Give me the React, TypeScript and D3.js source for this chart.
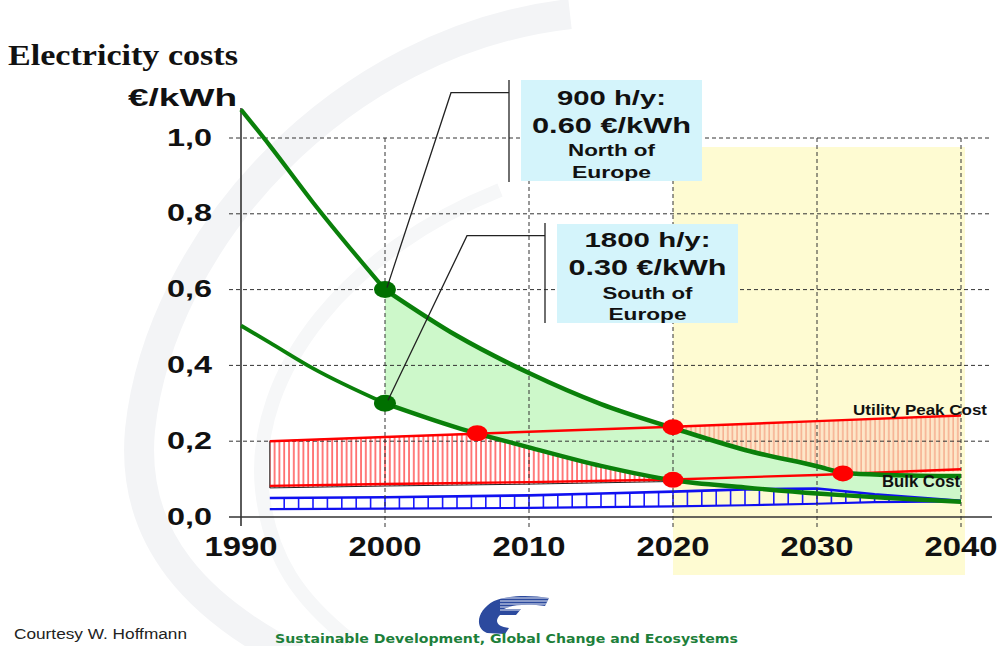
import React from 'react';
import * as d3 from 'd3';

// Cost curves of PV electricity for two irradiation levels (€/kWh)
const curveYears = [1990, 1992, 1995, 2000, 2005, 2010, 2015, 2020, 2025, 2030, 2032, 2035, 2040];
const north900 = [1.075, 0.98, 0.83, 0.6, 0.478, 0.38, 0.298, 0.235, 0.177, 0.134, 0.116, 0.111, 0.108];
const south1800 = [0.505, 0.46, 0.392, 0.3, 0.236, 0.184, 0.135, 0.097, 0.078, 0.062, 0.057, 0.05, 0.04];

// Grid electricity prices
const costYears = [1992, 2000, 2010, 2020, 2030, 2040];
const utilityPeak = [0.2, 0.211, 0.225, 0.238, 0.253, 0.268];
const bulkCost = [0.082, 0.087, 0.092, 0.099, 0.111, 0.126];

// Generation cost band (blue)
const bandYears = [1992, 2000, 2010, 2015, 2020, 2025, 2030, 2034, 2040];
const bandTop = [0.05, 0.052, 0.057, 0.062, 0.067, 0.073, 0.075, 0.06, 0.043];
const bandBottom = [0.021, 0.022, 0.024, 0.026, 0.028, 0.031, 0.035, 0.039, 0.041];

// Break-even points
const crossYears = [2006.4, 2020, 2020, 2031.8];
const crossCosts = [0.221, 0.237, 0.098, 0.115];
const anchorYears = [2000, 2000];
const anchorCosts = [0.6, 0.3];

const xTicks = [1990, 2000, 2010, 2020, 2030, 2040];
const yTicks = [0, 0.2, 0.4, 0.6, 0.8, 1.0];
const yTickLabels = ['0,0', '0,2', '0,4', '0,6', '0,8', '1,0'];

const northBox = ['900 h/y:', '0.60 €/kWh', 'North of', 'Europe'];
const southBox = ['1800 h/y:', '0.30 €/kWh', 'South of', 'Europe'];

const SANS = "'Liberation Sans', Arial, sans-serif";

export default function App() {
  const x = d3.scaleLinear().domain([1990, 2040]).range([241, 961]);
  const y = d3.scaleLinear().domain([0, 1]).range([517, 138]);

  const curvePts = curveYears.map((yr, i) => ({ yr, n: north900[i], s: south1800[i] }));
  const early = curvePts.filter((d) => d.yr <= 2000);
  const late = curvePts.filter((d) => d.yr >= 2000);

  const lineN = d3.line<any>().x((d) => x(d.yr)).y((d) => y(d.n)).curve(d3.curveMonotoneX);
  const lineS = d3.line<any>().x((d) => x(d.yr)).y((d) => y(d.s)).curve(d3.curveMonotoneX);
  const greenArea = d3
    .area<any>()
    .x((d) => x(d.yr))
    .y0((d) => y(d.s))
    .y1((d) => y(d.n))
    .curve(d3.curveMonotoneX);

  const costPts = costYears.map((yr, i) => ({ yr, u: utilityPeak[i], b: bulkCost[i] }));
  const hatchArea = d3
    .area<any>()
    .x((d) => x(d.yr))
    .y0((d) => y(d.b) + 2)
    .y1((d) => y(d.u));
  const lineU = d3.line<any>().x((d) => x(d.yr)).y((d) => y(d.u));
  const lineB = d3.line<any>().x((d) => x(d.yr)).y((d) => y(d.b));

  const bandPts = bandYears.map((yr, i) => ({ yr, t: bandTop[i], b: bandBottom[i] }));
  const bandTopLine = d3.line<any>().x((d) => x(d.yr)).y((d) => y(d.t));
  const bandBottomLine = d3.line<any>().x((d) => x(d.yr)).y((d) => y(d.b));
  const topAt = d3.scaleLinear().domain(bandYears).range(bandTop);
  const bottomAt = d3.scaleLinear().domain(bandYears).range(bandBottom);
  const dividerYears = d3.range(1993, 2040);

  const x2020 = x(2020);
  const dotN = { x: x(anchorYears[0]), y: y(anchorCosts[0]) };
  const dotS = { x: x(anchorYears[1]), y: y(anchorCosts[1]) };

  const boxText = (lines: string[], cx: number, baselines: number[], sizes: number[], lens: number[]) =>
    lines.map((t, i) => (
      <text
        key={t + i}
        x={cx - lens[i] / 2}
        y={baselines[i]}
        fontFamily={SANS}
        fontWeight="bold"
        fontSize={sizes[i]}
        textLength={lens[i]}
        lengthAdjust="spacingAndGlyphs"
        fill="#111"
      >
        {t}
      </text>
    ));

  return (
    <svg
      width={1004}
      height={646}
      style={{ position: 'absolute', left: 0, top: 0, display: 'block', background: '#fff' }}
    >
      <defs>
        <pattern id="hatchPast" patternUnits="userSpaceOnUse" width={4.8} height={20}>
          <rect width={4.8} height={20} fill="#fff" />
          <line x1={1} x2={1} y1={0} y2={20} stroke="#ff1010" strokeWidth={1.1} />
        </pattern>
        <pattern id="hatchFuture" patternUnits="userSpaceOnUse" width={4.6} height={20}>
          <rect width={4.6} height={20} fill="#fde6c8" />
          <line x1={1} x2={1} y1={0} y2={20} stroke="#f29272" strokeWidth={1} />
        </pattern>
        <clipPath id="before2020">
          <rect x={0} y={0} width={x2020} height={646} />
        </clipPath>
        <clipPath id="after2020">
          <rect x={x2020} y={0} width={1004 - x2020} height={646} />
        </clipPath>
        <clipPath id="logoClip">
          <path d="M 487 633 C 474 628 477 610 494 601 C 507 595 531 595 549 598 L 545 606 C 530 604 513 604 504 609 L 521 609 L 516 615 L 500 615 C 494 621 497 627 509 628 L 505 634 Z" />
        </clipPath>
      </defs>

      {/* faint background swoosh */}
      <path
        d="M 570 14 C 340 40 160 240 140 430 C 130 540 200 610 300 660"
        fill="none"
        stroke="#f3f4f6"
        strokeWidth={30}
      />
      <path
        d="M 500 190 C 350 250 250 370 262 490 C 270 560 300 600 350 640"
        fill="none"
        stroke="#f6f7f8"
        strokeWidth={14}
      />

      {/* projection period */}
      <rect x={x2020} y={147} width={965 - x2020} height={575 - 147} fill="#fefbd2" />

      {/* price band hatching */}
      <path d={hatchArea(costPts) || ''} fill="url(#hatchFuture)" clipPath="url(#after2020)" />
      <path
        d={hatchArea(costPts) || ''}
        fill="url(#hatchPast)"
        stroke="#222"
        strokeWidth={1}
        clipPath="url(#before2020)"
      />

      {/* range between the two PV cost curves */}
      <path d={greenArea(late) || ''} fill="#cdf8ca" />

      {/* blue band */}
      {dividerYears.map((yr) => (
        <line
          key={yr}
          x1={x(yr)}
          x2={x(yr)}
          y1={y(bottomAt(yr))}
          y2={y(topAt(yr))}
          stroke="#1a1aff"
          strokeWidth={1.6}
        />
      ))}
      <path d={bandTopLine(bandPts) || ''} fill="none" stroke="#1010f0" strokeWidth={2.6} />
      <path d={bandBottomLine(bandPts) || ''} fill="none" stroke="#1010f0" strokeWidth={2.2} />

      {/* grid */}
      {yTicks.slice(1).map((v) => (
        <line
          key={'h' + v}
          x1={229}
          x2={992}
          y1={y(v)}
          y2={y(v)}
          stroke="#333"
          strokeWidth={1}
          strokeDasharray="4 3"
        />
      ))}
      {xTicks.slice(1).map((yr) => (
        <line
          key={'v' + yr}
          x1={x(yr)}
          x2={x(yr)}
          y1={y(1)}
          y2={527}
          stroke="#333"
          strokeWidth={1}
          strokeDasharray="4 3"
        />
      ))}

      {/* axes */}
      <line x1={229} x2={992} y1={y(0)} y2={y(0)} stroke="#333" strokeWidth={1.6} />
      <line x1={x(1990)} x2={x(1990)} y1={108} y2={526} stroke="#333" strokeWidth={1.6} />

      {/* grid electricity prices */}
      <path d={lineU(costPts) || ''} fill="none" stroke="#ff0000" strokeWidth={2.4} />
      <path d={lineB(costPts) || ''} fill="none" stroke="#ff0000" strokeWidth={2.4} />

      {/* PV cost curves */}
      <path d={lineN(early) || ''} fill="none" stroke="#0a800a" strokeWidth={4.2} />
      <path d={lineS(early) || ''} fill="none" stroke="#0a800a" strokeWidth={3.8} />
      <path d={lineN(late) || ''} fill="none" stroke="#0a800a" strokeWidth={4.6} />
      <path d={lineS(late) || ''} fill="none" stroke="#0a800a" strokeWidth={4.4} />

      {/* break-even markers */}
      {crossYears.map((yr, i) => (
        <ellipse key={'c' + i} cx={x(yr)} cy={y(crossCosts[i])} rx={10.5} ry={8} fill="#ff0000" />
      ))}
      {anchorYears.map((yr, i) => (
        <ellipse key={'a' + i} cx={x(yr)} cy={y(anchorCosts[i])} rx={11} ry={8.5} fill="#007000" />
      ))}

      {/* callout leaders */}
      <polyline
        points={`509,92.7 451,92.7 ${dotN.x + 2},${dotN.y - 2}`}
        fill="none"
        stroke="#222"
        strokeWidth={1.3}
      />
      <line x1={509} x2={509} y1={80} y2={182} stroke="#222" strokeWidth={1.3} />
      <polyline
        points={`545,235.7 467,235.7 ${dotS.x + 3},${dotS.y - 3}`}
        fill="none"
        stroke="#222"
        strokeWidth={1.3}
      />
      <line x1={545} x2={545} y1={223} y2={323} stroke="#222" strokeWidth={1.3} />

      {/* callout boxes */}
      <rect x={521} y={80} width={181} height={101} fill="#d4f4fb" />
      {boxText(northBox, 611.5, [104.5, 132.5, 156, 177.5], [21, 22, 16.5, 16.5], [109, 159, 87, 79])}
      <rect x={557} y={224} width={181} height={99} fill="#d4f4fb" />
      {boxText(southBox, 647.5, [247, 274.5, 299, 320], [21, 22, 16.5, 16.5], [126, 158, 90, 78])}

      {/* line labels */}
      <text
        x={853}
        y={415}
        fontFamily={SANS}
        fontWeight="bold"
        fontSize={15.5}
        textLength={134}
        lengthAdjust="spacingAndGlyphs"
        fill="#111"
      >
        Utility Peak Cost
      </text>
      <text
        x={882}
        y={487}
        fontFamily={SANS}
        fontWeight="bold"
        fontSize={16}
        textLength={78}
        lengthAdjust="spacingAndGlyphs"
        fill="#111"
      >
        Bulk Cost
      </text>

      {/* axis labels */}
      {yTicks.map((v, i) => (
        <text
          key={'yl' + v}
          x={167}
          y={y(v) + 7.5}
          fontFamily={SANS}
          fontWeight="bold"
          fontSize={23}
          textLength={45}
          lengthAdjust="spacingAndGlyphs"
          fill="#111"
        >
          {yTickLabels[i]}
        </text>
      ))}
      {xTicks.map((yr) => (
        <text
          key={'xl' + yr}
          x={x(yr) - 36.5}
          y={556}
          fontFamily={SANS}
          fontWeight="bold"
          fontSize={28}
          textLength={73}
          lengthAdjust="spacingAndGlyphs"
          fill="#111"
        >
          {yr}
        </text>
      ))}
      <text
        x={128}
        y={106}
        fontFamily={SANS}
        fontWeight="bold"
        fontSize={23}
        textLength={109}
        lengthAdjust="spacingAndGlyphs"
        fill="#111"
      >
        €/kWh
      </text>

      {/* title */}
      <text
        x={8}
        y={65}
        fontFamily="'Liberation Serif', 'Times New Roman', serif"
        fontWeight="bold"
        fontSize={30}
        textLength={230}
        lengthAdjust="spacingAndGlyphs"
        fill="#111"
      >
        Electricity costs
      </text>

      {/* footer */}
      <text
        x={14}
        y={639}
        fontFamily="'Liberation Sans Narrow', 'Liberation Sans', Arial, sans-serif"
        fontSize={14}
        textLength={173}
        lengthAdjust="spacingAndGlyphs"
        fill="#222"
      >
        Courtesy W. Hoffmann
      </text>
      <g clipPath="url(#logoClip)">
        <rect x={470} y={592} width={85} height={45} fill="#2c4a9e" />
        {d3.range(598, 612, 3).map((yy) => (
          <line key={yy} x1={500} x2={555} y1={yy} y2={yy} stroke="#fff" strokeWidth={0.9} />
        ))}
      </g>
      <text
        x={275}
        y={643}
        fontFamily="'DejaVu Sans', Verdana, sans-serif"
        fontWeight="bold"
        fontSize={13}
        textLength={463}
        lengthAdjust="spacingAndGlyphs"
        fill="#1d7f3a"
      >
        Sustainable Development, Global Change and Ecosystems
      </text>
    </svg>
  );
}
